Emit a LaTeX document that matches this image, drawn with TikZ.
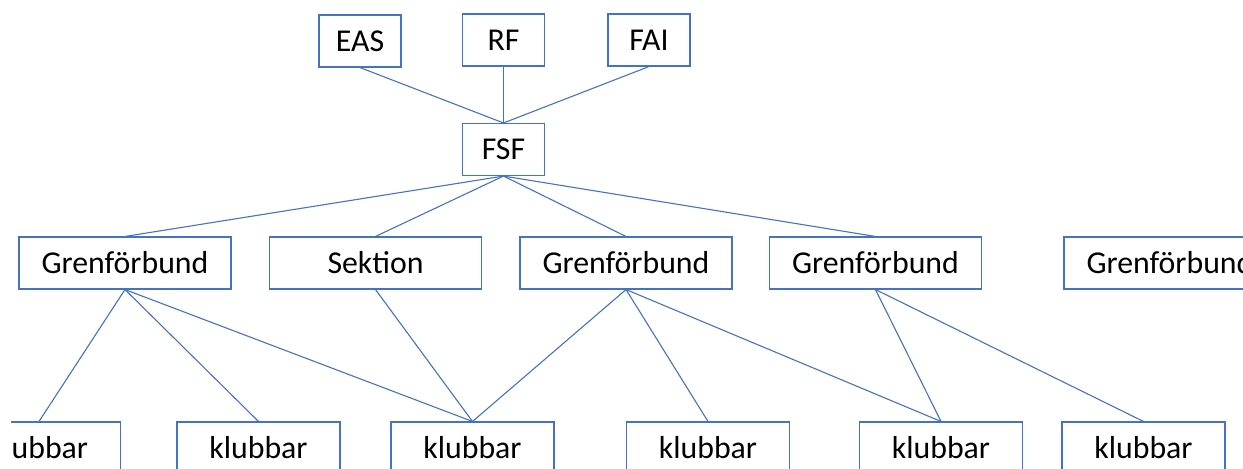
\documentclass[tikz,border=0pt]{standalone}
\usepackage{fontspec}
\setmainfont{Carlito}
\definecolor{orgblue}{HTML}{4472C4}

\begin{document}
\begin{tikzpicture}[x=0.5pt, y=-0.5pt,
	box/.style={draw=orgblue, line width=0.55pt, minimum height=26pt, inner sep=0pt, font=\fontsize{15.9}{19}\selectfont},
	small/.style={box, minimum width=41pt},
	wide/.style={box, minimum width=106pt},
	club/.style={box, minimum width=81.5pt},
	link/.style={draw=orgblue, line width=0.55pt}]
	\useasboundingbox (0,0) rectangle (1243,468);
	\clip (11,0) rectangle (1243,468);
	% top row
	\node at (360,41) [small] (eas) {EAS};
	\node at (503.5,40) [small] (rf) {RF};
	\node at (649,40) [small] (fai) {FAI};
	\node at (503.5,149.5) [small] (fsf) {FSF};
	% federations and sections
	\node at (125,263) [wide] (gren1) {Grenförbund};
	\node at (375.5,263) [wide] (sektion) {Sektion};
	\node at (626,263) [wide] (gren2) {Grenförbund};
	\node at (875.5,263) [wide] (gren3) {Grenförbund};
	\node at (1170,263) [wide] (gren4) {Grenförbund};
	% clubs
	\node at (39,448) [club] (klubb1) {klubbar};
	\node at (258.5,448) [club] (klubb2) {klubbar};
	\node at (472.5,448) [club] (klubb3) {klubbar};
	\node at (708,448) [club] (klubb4) {klubbar};
	\node at (941,448) [club] (klubb5) {klubbar};
	\node at (1143.5,448) [club] (klubb6) {klubbar};
	% connectors
	\foreach \top in {eas, rf, fai}
		\draw[link] (\top.south) -- (fsf.north);
	\foreach \mid in {gren1, sektion, gren2, gren3}
		\draw[link] (fsf.south) -- (\mid.north);
	\foreach \club in {klubb1, klubb2, klubb3}
		\draw[link] (gren1.south) -- (\club.north);
	\draw[link] (sektion.south) -- (klubb3.north);
	\foreach \club in {klubb3, klubb4, klubb5}
		\draw[link] (gren2.south) -- (\club.north);
	\foreach \club in {klubb5, klubb6}
		\draw[link] (gren3.south) -- (\club.north);
\end{tikzpicture}
\end{document}
